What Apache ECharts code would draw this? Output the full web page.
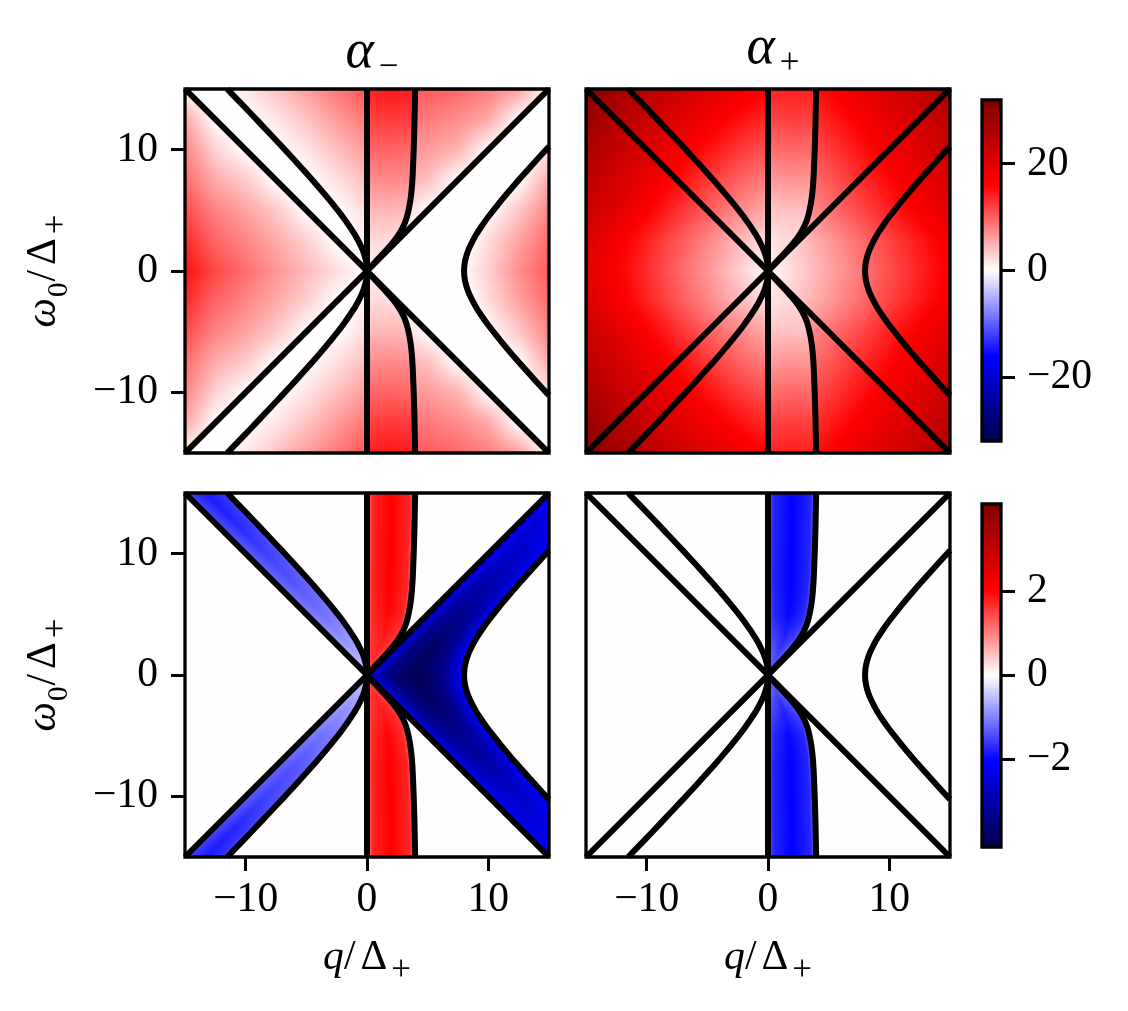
<!DOCTYPE html>
<html><head><meta charset="utf-8">
<script src="https://cdn.jsdelivr.net/npm/echarts@6/dist/echarts.min.js"></script>
<style>html,body{margin:0;padding:0;background:#fff}#c{width:1128px;height:1011px}</style>
</head><body><div id="c"></div>
<script>
// ---------- tick labels and scales ----------
const axisTicks = [-10, 0, 10];
const topBarTicks = [-20, 0, 20];
const bottomBarTicks = [-2, 0, 2];
const topRange = 31.9;
const bottomRange = 4.08;
const seismicStops = ['#00004c', '#0000ff', '#ffffff', '#ff0000', '#800000'];

// ---------- black curves as [q, omega], omega >= 0 ----------
const diagonalRight = [[0,0],[15,15]];
const diagonalLeft = [[0,0],[-15,15]];
const verticalZero = [[0,0],[0,15]];
const edgeLeft = [[-15,0],[-15,15]];
const edgeRight = [[15,0],[15,15]];
const curveOuterLeft = [[0,0],[-0.02,0.4],[-0.05,0.63],[-0.1,0.9],[-0.25,1.44],[-0.5,2.06],[-1,3],[-2,4.47],[-3,5.74],[-4,6.93],[-5,8.06],[-6,9.17],[-7,10.25],[-8,11.31],[-9,12.37],[-10,13.42],[-11,14.46],[-11.52,15]];
const curveInner = [[0,0],[0.5,0.55],[1,1.08],[1.5,1.62],[2,2.2],[2.4,2.7],[2.7,3.15],[2.95,3.6],[3.15,4.05],[3.3,4.5],[3.42,5],[3.52,5.5],[3.6,6],[3.67,6.6],[3.72,7.2],[3.77,8],[3.81,9],[3.85,10],[3.88,11],[3.91,12],[3.93,13],[3.95,14],[3.97,15]];
const curveHyperbola = [[8,0],[8.02,0.4],[8.05,0.63],[8.1,0.9],[8.25,1.44],[8.5,2.06],[9,3],[9.5,3.77],[10,4.47],[11,5.74],[12,6.93],[13,8.06],[14,9.17],[15,10.25]];

// ---------- colour values, rows run omega = rowsOmega[0..], mirrored below omega = 0 ----------
const rowsOmega = [0, 2.5, 5, 7.5, 10, 12.5, 15];
const qLeftNodes = [-15,-12.5,-10,-7.5,-5,-2.5,0];
const qRightNodes = [0,2.5,5,7.5,10,12.5,15];
const qUpperRightNodes = [2.5,5,7.5,10,12.5,15];
const qUpperLeftNodes = [-12.5,-10,-7.5,-5,-2.5,0];
const qFarRightNodes = [8,9,10,12.5,15];
const rowsFarRight = [0,2.5,5,7.5,10,12.5];
const stripFractions = [0,0.12,0.5,0.88,1];
const bandFractions = [0,0.15,0.5,0.85,1];
const wideFractions = [0,0.06,0.25,0.5,0.75,0.94,1];
const wideRows = [0,2.5,5,7.5,10,12.5,15];
const thirdsFractions = [0,0.5,1];

const alphaMinusWedge = [
 [15,11.5,9,6.6,4.3,2.1,0],[13.2,9.6,7.6,5.4,3,0,0],[11.2,7.8,5.8,3.4,0,0,0],
 [9.2,5.2,3.2,0,0,0,0],[7.6,2.8,0,0,0,0,0],[5.5,0,0,0,0,0,0],[0,0,0,0,0,0,0]];
const alphaMinusUpperLeft = [
 [0,0,0,0,0,0],[0,0,0,0,0,0.7],[0,0,0,0,0,2.2],[0,0,0,0,1.9,4.2],
 [0,0,0,1.6,4,6.3],[0,0,1.5,3.8,6.2,8.5],[0,1.4,3.7,6.1,8.4,10.7]];
const alphaMinusStrip = [[0.8,0.8,0.8],[2.2,2.4,2],[4.3,4.6,4.2],[7,7.4,7],[9.3,9.8,9.3],[11.8,12.4,12],[13.8,14.6,14]];
const alphaMinusUpperRight = [
 [0,0,0,0,0,0],[0,0,0,0,0,0],[3.1,0,0,0,0,0],[5.1,4,0,0,0,0],
 [7,6.2,4.8,0,0,0],[8.8,8.3,7.2,5.4,0,0],[10.6,10.2,9.4,8,6,0]];
const alphaMinusFarRight = [[0,1.8,3,7,10.2],[0,0.8,2.2,5.8,9.2],[0,0,0,3.4,7.6],[0,0,0,0,5.3],[0,0,0,0,1.5],[0,0,0,0,0]];

const alphaPlusLeft = [
 [19.7,16.4,13.1,9.8,6.6,3.3,0],[20.5,17.2,13.9,10.7,7.6,4.6,2],[22.7,19.5,16.3,13.2,10.2,7.5,5.3],
 [24.5,21.4,18.3,15.4,12.5,10,8],[26.5,23.4,20.5,17.6,15,12.6,10.7],[28.5,25.6,22.7,20,17.4,15.2,13.3],[30.7,27.8,25,22.4,20,17.8,16]];
const alphaPlusStrip = [[0.5,1.5,2.5],[1.5,2.2,2.5],[3.6,4,3.8],[6.2,6.8,6.5],[9,9.6,9.2],[11.6,12.2,11.8],[13.6,14.2,13.8]];
const alphaPlusRight = [
 [0,2.75,5.5,8.25,11,13.75,16.5],[1.4,3.6,6.3,9,11.8,14.5,17.2],[3.9,6.1,8.7,11.3,14,16.7,19.4],
 [5.8,8,10.4,13,15.6,18.3,21],[7.7,9.9,12.2,14.7,17.3,20,22.6],[9.7,11.8,14.1,16.5,19.1,21.6,24.3],[11.6,13.7,16,18.4,20.8,23.4,26]];

const lowerMinusBand = [
 [-0.3,-0.35,-0.4,-0.35,-0.3],[-0.6,-0.75,-0.85,-0.75,-0.6],[-0.85,-1.05,-1.15,-1.05,-0.85],
 [-1,-1.25,-1.38,-1.25,-1],[-1.1,-1.35,-1.55,-1.4,-1.1],[-1.2,-1.5,-1.75,-1.55,-1.2],[-1.25,-1.6,-1.85,-1.65,-1.3]];
const lowerMinusStrip = [
 [1,1.4,1.5,1.4,1.1],[1,1.6,1.8,1.6,1.1],[1,1.7,2,1.7,1],[1,1.75,2.05,1.75,1],
 [1,1.75,2.05,1.75,1],[1,1.75,2.05,1.75,1],[1,1.75,2.05,1.75,1]];
const lowerMinusMiddle = [
 [-2,-2.6,-3.6,-4,-3.5,-2.4,-1.5],[-2,-2.6,-3.45,-3.8,-3.3,-2.3,-1.5],[-2,-2.4,-3.1,-3.4,-3,-2.25,-1.5],
 [-2,-2.3,-2.8,-3.05,-2.7,-2.2,-1.5],[-1.9,-2.2,-2.5,-2.7,-2.45,-2.1,-1.5],[-1.9,-2.1,-2.35,-2.45,-2.4,-2.35,-2.3],[-1.9,-1.9,-1.9,-1.9,-1.9,-1.9,-1.9]];
const lowerPlusStrip = [
 [-0.8,-1,-1.2,-1,-0.8],[-1.1,-1.4,-1.7,-1.4,-1],[-1.25,-1.7,-2,-1.7,-1.1],[-1.3,-1.75,-2.05,-1.75,-1.1],
 [-1.3,-1.75,-2.05,-1.75,-1.1],[-1.3,-1.75,-2.05,-1.75,-1.1],[-1.3,-1.75,-2.05,-1.75,-1.1]];

// ---------- layout ----------
const panels = [
 {left:185, top:89, xLabels:false, yLabels:true},
 {left:586, top:89, xLabels:false, yLabels:false},
 {left:185, top:493, xLabels:true, yLabels:true},
 {left:586, top:493, xLabels:true, yLabels:false}];
const bars = [{left:982, top:100, height:341, range:topRange, ticks:topBarTicks},
              {left:982, top:504, height:343, range:bottomRange, ticks:bottomBarTicks}];
const regions = [
 {p:0,l:edgeLeft,r:diagonalLeft,nodes:qLeftNodes,band:false,rows:rowsOmega,v:alphaMinusWedge,max:topRange},
 {p:0,l:curveOuterLeft,r:verticalZero,nodes:qUpperLeftNodes,band:false,rows:rowsOmega,v:alphaMinusUpperLeft,max:topRange},
 {p:0,l:verticalZero,r:curveInner,nodes:thirdsFractions,band:true,rows:rowsOmega,v:alphaMinusStrip,max:topRange},
 {p:0,l:curveInner,r:diagonalRight,nodes:qUpperRightNodes,band:false,rows:rowsOmega,v:alphaMinusUpperRight,max:topRange},
 {p:0,l:curveHyperbola,r:edgeRight,nodes:qFarRightNodes,band:false,rows:rowsFarRight,v:alphaMinusFarRight,max:topRange},
 {p:1,l:edgeLeft,r:verticalZero,nodes:qLeftNodes,band:false,rows:rowsOmega,v:alphaPlusLeft,max:topRange},
 {p:1,l:verticalZero,r:curveInner,nodes:thirdsFractions,band:true,rows:rowsOmega,v:alphaPlusStrip,max:topRange},
 {p:1,l:curveInner,r:edgeRight,nodes:qRightNodes,band:false,rows:rowsOmega,v:alphaPlusRight,max:topRange},
 {p:2,l:diagonalLeft,r:curveOuterLeft,nodes:bandFractions,band:true,rows:rowsOmega,v:lowerMinusBand,max:bottomRange},
 {p:2,l:verticalZero,r:curveInner,nodes:stripFractions,band:true,rows:rowsOmega,v:lowerMinusStrip,max:bottomRange},
 {p:2,l:diagonalRight,r:curveHyperbola,nodes:wideFractions,band:true,rows:wideRows,v:lowerMinusMiddle,max:bottomRange},
 {p:3,l:verticalZero,r:curveInner,nodes:stripFractions,band:true,rows:rowsOmega,v:lowerPlusStrip,max:bottomRange}];

const FONT = 'Liberation Serif';
const FS = 41.6;
const mathRich = {
 i:{fontFamily:FONT,fontStyle:'italic',fontSize:FS,color:'#000'},
 r:{fontFamily:FONT,fontSize:FS,color:'#000'},
 d:{fontFamily:FONT,fontSize:FS,color:'#000',padding:[0,1,0,5]},
 s:{fontFamily:FONT,fontSize:35,color:'#000',verticalAlign:'bottom',lineHeight:60,padding:[0,0,0,3]},
 z:{fontFamily:FONT,fontSize:29,color:'#000',verticalAlign:'bottom',lineHeight:60,padding:[0,1,0,1]}
};

function seismic(v, max){
  const t = Math.max(-1, Math.min(1, v/max));
  let r,g,b;
  if (t >= 0) { if (t<=0.5){r=255;g=b=255*(1-2*t);} else {r=255-(t-0.5)*255;g=b=0;} }
  else { const a=-t; if (a<=0.5){b=255;r=g=255*(1-2*a);} else {b=255-(a-0.5)*357;r=g=0;} }
  return 'rgb('+Math.round(r)+','+Math.round(g)+','+Math.round(b)+')';
}
function qAt(curve, w){
  for (let i=1;i<curve.length;i++){
    if (w<=curve[i][1]){
      const a=curve[i-1], b=curve[i], d=b[1]-a[1];
      return d>0 ? a[0]+(b[0]-a[0])*(w-a[1])/d : b[0];
    }
  }
  return curve[curve.length-1][0];
}
function rowAt(reg, w){
  const rows=reg.rows; let j=0;
  while (j<rows.length-2 && w>rows[j+1]) j++;
  const f=Math.max(0,Math.min(1,(w-rows[j])/(rows[j+1]-rows[j])));
  return reg.v[j].map((x,i)=>x+(reg.v[j+1][i]-x)*f);
}
// Shades one region, one pixel row at a time, with a horizontal gradient through the read values.
function regionRender(reg){
  return function(params, api){
    const sign = api.value(0);
    const yMid = Math.round(api.coord([0,0])[1]), yTop = Math.round(api.coord([0,15])[1]);
    const children = [];
    for (let y=yTop; y<yMid; y++){
      const w = 15*(yMid-y-0.5)/(yMid-yTop);
      const qL = qAt(reg.l,w), qR = qAt(reg.r,w);
      const xL = api.coord([qL,0])[0], xR = api.coord([qR,0])[0];
      if (xR-xL<0.5) continue;
      const vals = rowAt(reg,w);
      const qs = reg.band ? reg.nodes.map(f=>qL+f*(qR-qL)) : reg.nodes;
      const x0 = api.coord([qs[0],0])[0], x1 = api.coord([qs[qs.length-1],0])[0];
      if (x1-x0<0.5) continue;
      const stops=[];
      for (let i=0;i<qs.length-1;i++){
        for (let k=0;k<3;k++){
          const f=k/3, q=qs[i]+(qs[i+1]-qs[i])*f, v=vals[i]+(vals[i+1]-vals[i])*f;
          stops.push({offset:(api.coord([q,0])[0]-x0)/(x1-x0),color:seismic(v,reg.max)});
        }
      }
      stops.push({offset:1,color:seismic(vals[vals.length-1],reg.max)});
      const yy = sign>0 ? y : 2*yMid-y-1;
      children.push({type:'rect',silent:true,shape:{x:xL,y:yy,width:xR-xL,height:1},
        style:{fill:new echarts.graphic.LinearGradient(x0,0,x1,0,stops,true)}});
    }
    return {type:'group',children};
  };
}
function mirror(curve){
  const up = curve.slice().reverse();
  const down = curve.slice(1).map(p=>[p[0],-p[1]]);
  return up.concat(down);
}
const fmt = v => String(v).replace('-','\u2212');

const grid=[], xAxis=[], yAxis=[], series=[];
panels.forEach((p,i)=>{
  grid.push({left:p.left,top:p.top,width:364,height:364,show:true,backgroundColor:'#fffdfd',borderWidth:0,outerBoundsMode:'none'});
  xAxis.push({gridIndex:i,type:'value',min:-15,max:15,
    axisLine:{show:false,onZero:false},splitLine:{show:false},
    axisTick:{show:p.xLabels,length:14,inside:false,customValues:axisTicks,lineStyle:{width:3,color:'#000'}},
    axisLabel:{show:p.xLabels,customValues:axisTicks,formatter:fmt,margin:22,fontFamily:FONT,fontSize:FS,color:'#000'},
    name:p.xLabels?'{i|q}{r|/}{d|\u0394}{s|+}':'',nameLocation:'middle',nameGap:71,nameMoveOverlap:false,nameTextStyle:{rich:mathRich}});
  yAxis.push({gridIndex:i,type:'value',min:-15,max:15,
    axisLine:{show:false,onZero:false},splitLine:{show:false},
    axisTick:{show:p.yLabels,length:14,customValues:axisTicks,lineStyle:{width:3,color:'#000'}},
    axisLabel:{show:p.yLabels,customValues:axisTicks,formatter:fmt,margin:27,fontFamily:FONT,fontSize:FS,color:'#000'},
    name:p.yLabels?'{i|\u03c9}{z|0}{r|/}{d|\u0394}{s|+}':'',nameLocation:'middle',nameRotate:90,nameGap:111,nameMoveOverlap:false,nameTextStyle:{rich:mathRich}});
});
regions.forEach(reg=>{
  series.push({type:'custom',coordinateSystem:'cartesian2d',xAxisIndex:reg.p,yAxisIndex:reg.p,
    data:[[1],[-1]],encode:{x:0},silent:true,animation:false,clip:true,z:2,renderItem:regionRender(reg)});
});
panels.forEach((p,i)=>{
  [diagonalRight,diagonalLeft,verticalZero,curveOuterLeft,curveInner,curveHyperbola].forEach((c,n)=>{
    series.push({type:'line',xAxisIndex:i,yAxisIndex:i,data:mirror(c),symbol:'none',silent:true,animation:false,
      clip:true,z:3,smooth:n>2?0.15:false,lineStyle:{color:'#000',width:6,cap:'butt',join:'miter'}});
  });
  series.push({type:'custom',coordinateSystem:'cartesian2d',xAxisIndex:i,yAxisIndex:i,data:[[-15,-15,15,15]],
    silent:true,animation:false,clip:false,z:5,renderItem(params,api){
      const a=api.coord([api.value(0),api.value(3)]), b=api.coord([api.value(2),api.value(1)]);
      return {type:'rect',shape:{x:a[0],y:a[1],width:b[0]-a[0],height:b[1]-a[1]},style:{fill:'none',stroke:'#000',lineWidth:3.3}};
    }});
});
bars.forEach((b,k)=>{
  const idx = panels.length+k;
  grid.push({left:b.left,top:b.top,width:19,height:b.height,outerBoundsMode:'none'});
  xAxis.push({gridIndex:idx,type:'value',min:0,max:1,show:false});
  yAxis.push({gridIndex:idx,type:'value',position:'right',min:-b.range,max:b.range,
    axisLine:{show:false,onZero:false},splitLine:{show:false},
    axisTick:{length:14,customValues:b.ticks,lineStyle:{width:3,color:'#000'}},
    axisLabel:{customValues:b.ticks,formatter:fmt,margin:26,fontFamily:FONT,fontSize:FS,color:'#000'}});
  series.push({type:'custom',coordinateSystem:'cartesian2d',xAxisIndex:idx,yAxisIndex:idx,
    data:[[0,-b.range,1,b.range]],silent:true,animation:false,clip:false,z:4,renderItem(params,api){
      const a=api.coord([api.value(0),api.value(3)]), c=api.coord([api.value(2),api.value(1)]);
      const stops=seismicStops.map((col,i)=>({offset:1-i/4,color:col})).reverse();
      return {type:'rect',shape:{x:a[0],y:a[1],width:c[0]-a[0],height:c[1]-a[1]},
        style:{fill:new echarts.graphic.LinearGradient(0,a[1],0,c[1],stops,true),stroke:'#000',lineWidth:3.3}};
    }});
});
const titleRich = {
 a:{fontFamily:FONT,fontStyle:'italic',fontWeight:'normal',fontSize:54,color:'#000'},
 s:{fontFamily:FONT,fontWeight:'normal',fontSize:35,color:'#000',verticalAlign:'bottom',lineHeight:64,padding:[0,0,0,5]}
};
const chart = echarts.init(document.getElementById('c'),null,{renderer:'canvas'});
chart.setOption({
  animation:false,backgroundColor:'#fff',
  title:[
    {text:'{a|\u03b1}{s|\u2212}',left:367,top:16,textAlign:'center',textStyle:{rich:titleRich}},
    {text:'{a|\u03b1}{s|+}',left:768,top:12,textAlign:'center',textStyle:{rich:titleRich}}],
  grid,xAxis,yAxis,series
});
</script></body></html>
